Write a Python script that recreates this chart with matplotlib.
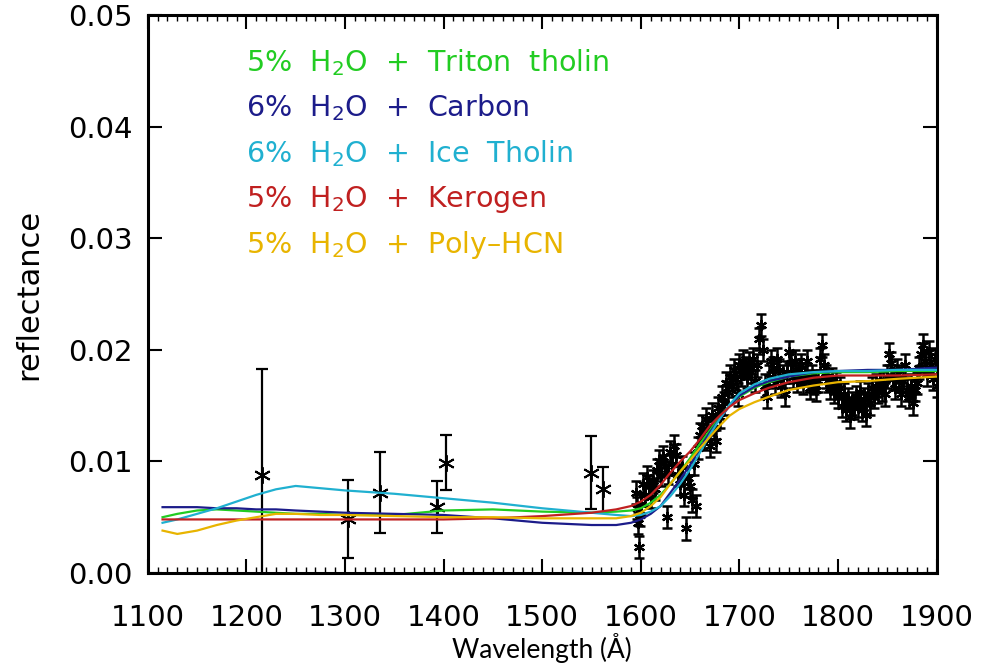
import numpy as np
import matplotlib
matplotlib.use("Agg")
import matplotlib.pyplot as plt
from matplotlib.ticker import MultipleLocator

# isolated low-S/N points shortward of the edge
low_wave = [1216, 1303, 1335, 1393, 1402, 1549, 1562]
low_refl = [0.0088, 0.0048, 0.0072, 0.0059, 0.0099, 0.0090, 0.0075]
low_err = [0.0095, 0.0035, 0.0036, 0.0023, 0.0025, 0.0033, 0.0020]

# dense spectrum across the absorption edge
dense_wave = list(range(1595, 1601)) + list(range(1602, 1901, 2))
dense_refl = [
    0.0072, 0.0058, 0.0045, 0.0023, 0.0052, 0.0062,
    0.0080, 0.0070, 0.0086, 0.0078, 0.0068, 0.0082, 0.0075, 0.0092, 0.0100, 0.0088,
    0.0104, 0.0096, 0.0050, 0.0090, 0.0108, 0.0098, 0.0114, 0.0106, 0.0088, 0.0080,
    0.0095, 0.0070, 0.0040, 0.0085, 0.0078, 0.0065, 0.0098, 0.0060, 0.0112, 0.0124,
    0.0132, 0.0120, 0.0138, 0.0128, 0.0114, 0.0142, 0.0130, 0.0118, 0.0148, 0.0140,
    0.0158, 0.0152, 0.0170, 0.0162, 0.0176, 0.0168, 0.0182, 0.0174, 0.0160, 0.0186,
    0.0178, 0.0190, 0.0184, 0.0176, 0.0188, 0.0180, 0.0192, 0.0172, 0.0186, 0.0210,
    0.0222, 0.0200, 0.0168, 0.0158, 0.0176, 0.0190, 0.0184, 0.0170, 0.0192, 0.0182,
    0.0168, 0.0176, 0.0160, 0.0180, 0.0198, 0.0188, 0.0176, 0.0190, 0.0172, 0.0182,
    0.0186, 0.0170, 0.0178, 0.0190, 0.0172, 0.0166, 0.0176, 0.0170, 0.0164, 0.0172,
    0.0192, 0.0204, 0.0186, 0.0176, 0.0172, 0.0166, 0.0174, 0.0162, 0.0170, 0.0158,
    0.0166, 0.0150, 0.0160, 0.0146, 0.0156, 0.0140, 0.0152, 0.0148, 0.0158, 0.0150,
    0.0162, 0.0146, 0.0156, 0.0142, 0.0160, 0.0152, 0.0166, 0.0158, 0.0168, 0.0162,
    0.0172, 0.0164, 0.0170, 0.0160, 0.0176, 0.0196, 0.0188, 0.0174, 0.0166, 0.0182,
    0.0176, 0.0160, 0.0172, 0.0186, 0.0164, 0.0158, 0.0168, 0.0152, 0.0164, 0.0170,
    0.0184, 0.0196, 0.0204, 0.0190, 0.0178, 0.0198, 0.0186, 0.0174, 0.0192, 0.0168,
]
dense_err = 0.0010

# model spectra
model_wave = [1115, 1130, 1150, 1170, 1190, 1210, 1230, 1250, 1275, 1300, 1350, 1400,
              1450, 1500, 1550, 1575, 1590, 1600, 1610, 1620, 1630, 1640, 1650, 1660,
              1670, 1680, 1690, 1700, 1715, 1730, 1750, 1775, 1800, 1830, 1860, 1900]
triton = [0.0050, 0.0053, 0.0056, 0.0057, 0.0056, 0.0055, 0.0054, 0.0053, 0.0053, 0.0052,
          0.0052, 0.0056, 0.0057, 0.0055, 0.0054, 0.0055, 0.0056, 0.0058, 0.0063, 0.0070,
          0.0080, 0.0091, 0.0103, 0.0116, 0.0128, 0.0140, 0.0150, 0.0158, 0.0166, 0.0171,
          0.0176, 0.0179, 0.0180, 0.0180, 0.0181, 0.0181]
carbon = [0.0059, 0.0059, 0.0059, 0.0058, 0.0058, 0.0057, 0.0057, 0.0056, 0.0055, 0.0054,
          0.0053, 0.0052, 0.0049, 0.0045, 0.0043, 0.0043, 0.0045, 0.0048, 0.0053, 0.0060,
          0.0072, 0.0084, 0.0097, 0.0112, 0.0126, 0.0138, 0.0150, 0.0159, 0.0167, 0.0172,
          0.0176, 0.0180, 0.0181, 0.0182, 0.0182, 0.0184]
ice_tholin = [0.0045, 0.0048, 0.0053, 0.0058, 0.0064, 0.0070, 0.0075, 0.0078, 0.0076, 0.0074,
              0.0071, 0.0067, 0.0063, 0.0058, 0.0054, 0.0052, 0.0051, 0.0052, 0.0055, 0.0060,
              0.0069, 0.0080, 0.0093, 0.0108, 0.0124, 0.0138, 0.0151, 0.0161, 0.0169, 0.0174,
              0.0178, 0.0180, 0.0181, 0.0181, 0.0182, 0.0182]
kerogen = [0.0048, 0.0048, 0.0048, 0.0048, 0.0048, 0.0048, 0.0048, 0.0048, 0.0048, 0.0048,
           0.0048, 0.0048, 0.0049, 0.0051, 0.0054, 0.0057, 0.0060, 0.0064, 0.0070, 0.0079,
           0.0090, 0.0100, 0.0109, 0.0120, 0.0132, 0.0141, 0.0149, 0.0155, 0.0161, 0.0166,
           0.0171, 0.0175, 0.0177, 0.0177, 0.0177, 0.0178]
poly_hcn = [0.0038, 0.0035, 0.0038, 0.0043, 0.0047, 0.0050, 0.0053, 0.0053, 0.0052, 0.0052,
            0.0051, 0.0050, 0.0050, 0.0049, 0.0049, 0.0049, 0.0051, 0.0054, 0.0060, 0.0068,
            0.0080, 0.0091, 0.0101, 0.0112, 0.0122, 0.0132, 0.0141, 0.0147, 0.0153, 0.0158,
            0.0164, 0.0168, 0.0171, 0.0172, 0.0174, 0.0176]

labels = ["5%  H$_2$O  +  Triton  tholin", "6%  H$_2$O  +  Carbon",
          "6%  H$_2$O  +  Ice  Tholin", "5%  H$_2$O  +  Kerogen",
          "5%  H$_2$O  +  Poly\u2013HCN"]
models = [triton, carbon, ice_tholin, kerogen, poly_hcn]
colors = ["#22cc22", "#1c1c8a", "#20b0d0", "#c02020", "#e8b400"]

fig = plt.figure(figsize=(9.85, 6.69), dpi=100)
ax = fig.add_axes([0.150, 0.1435, 0.801, 0.834])

star = (6, 2, 0)
ax.errorbar(dense_wave, dense_refl, yerr=dense_err, fmt="none", ecolor="black",
            elinewidth=1.8, capsize=3.5, capthick=1.8, zorder=2)
ax.plot(dense_wave, dense_refl, ls="none", marker=star, ms=8, mec="black",
        mew=1.6, zorder=2)
ax.errorbar(low_wave, low_refl, yerr=low_err, fmt="none", ecolor="black",
            elinewidth=1.6, capsize=4, capthick=1.6, zorder=2)
ax.plot(low_wave, low_refl, ls="none", marker=star, ms=12, mec="black",
        mew=1.4, zorder=2)

for vals, col in zip(models, colors):
    ax.plot(model_wave, vals, color=col, lw=1.6, zorder=3)

for i, (lab, col) in enumerate(zip(labels, colors)):
    ax.text(0.125, 0.8996 - i * 0.0814, lab, color=col, fontsize=20.5,
            transform=ax.transAxes, ha="left", va="baseline")

ax.set_xlim(1100, 1900)
ax.set_ylim(0.0, 0.05)
ax.xaxis.set_major_locator(MultipleLocator(100))
ax.xaxis.set_minor_locator(MultipleLocator(10))
ax.yaxis.set_major_locator(MultipleLocator(0.01))
ax.set_yticklabels([f"{v:.2f}" for v in ax.get_yticks()])
ax.tick_params(axis="both", which="major", direction="in", length=10, width=1.5,
               top=True, right=True, labelsize=21, pad=11)
ax.tick_params(axis="x", which="major", pad=22)
ax.tick_params(axis="x", which="minor", direction="in", length=4, width=1.0, top=True)
for sp in ax.spines.values():
    sp.set_linewidth(2.2)

ax.set_ylabel("reflectance", fontsize=22, labelpad=18)
ax.set_xlabel("Wavelength (\u00c5)", fontsize=19, family=["Lato", "DejaVu Sans"], labelpad=1)

fig.savefig("out.png", dpi=100)
